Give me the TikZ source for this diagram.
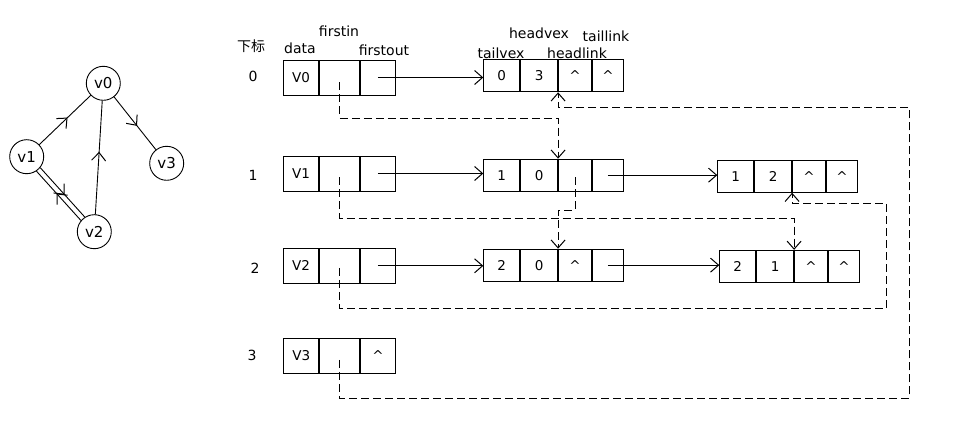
\documentclass[tikz,border=0pt]{standalone}
\usepackage{fontspec}
\setmainfont{DejaVu Sans}
\newfontfamily\cjk{Noto Sans CJK SC}
\usetikzlibrary{arrows.meta,decorations.markings,calc}
\tikzset{
  cellbox/.style={draw, line width=0.9pt, inner sep=0pt, anchor=west, font=\fontsize{13.5}{13.5}\selectfont},
  vcellbox/.style={cellbox, minimum height=35pt},
  ecellbox/.style={cellbox, minimum height=32pt},
  lbl/.style={font=\fontsize{14}{14}\selectfont, inner sep=0pt},
  opentip/.tip={Straight Barb[length=8pt,width=14pt,line width=1pt]},
  tip/.style={-opentip},
  solidarr/.style={line width=0.9pt, tip},
  dasharr/.style={line width=0.9pt, dash pattern=on 8pt off 4pt, tip},
  gnode/.style={draw, circle, line width=0.9pt, minimum size=34pt, inner sep=0pt, font=\fontsize{15}{15}\selectfont},
  midarrow/.style={line width=0.9pt, decoration={markings, mark=at position 0.55 with {\arrow{opentip}}}, postaction=decorate},
}
\newcommand{\vrowcells}[6]{%
  \node[vcellbox, minimum width=35pt] (#1d) at (#2,#3) {#4};
  \node[vcellbox, minimum width=40pt] (#1i) at (#1d.east) {#5};
  \node[vcellbox, minimum width=35pt] (#1o) at (#1i.east) {#6};}
\newcommand{\erowcells}[7]{%
  \node[ecellbox, minimum width=36pt] (#1a) at (#2,#3) {#4};
  \node[ecellbox, minimum width=37pt] (#1b) at (#1a.east) {#5};
  \node[ecellbox, minimum width=33pt] (#1c) at (#1b.east) {#6};
  \node[ecellbox, minimum width=31pt] (#1e) at (#1c.east) {#7};}
\begin{document}
\begin{tikzpicture}[x=1pt,y=-1pt]
\useasboundingbox (0,0) rectangle (954,435);
% left graph
\node[gnode] (g0) at (103.3,83.3) {v0};
\node[gnode] (g1) at (26.7,156.7) {v1};
\node[gnode] (g3) at (166.7,163.3) {v3};
\node[gnode] (g2) at (94.3,231.7) {v2};
\draw[midarrow] (g1) -- (g0);
\draw[midarrow] (g0) -- (g3);
\draw[midarrow] (g2) -- (g0);
\draw[midarrow] (g1.-39.5) -- (g2.123.5);
\draw[midarrow] (g2.140.5) -- (g1.-56.5);
% headers
\node[lbl] (hsub) at (251,46) {\cjk 下标};
\node[lbl] (hdata) at (300,48) {data};
\node[lbl] (hfin) at (339,31) {firstin};
\node[lbl] (hfout) at (384,50) {firstout};
\node[lbl] (htv) at (501,53) {tailvex};
\node[lbl] (hhv) at (539,33) {headvex};
\node[lbl] (hhl) at (577,53) {headlink};
\node[lbl] (htl) at (606,36) {taillink};
% row indices
\node[lbl] (r0) at (253,76) {0};
\node[lbl] (r1) at (253,175) {1};
\node[lbl] (r2) at (255,268) {2};
\node[lbl] (r3) at (252,355) {3};
% vertex table
\vrowcells{va}{283}{77.5}{V0}{}{}
\vrowcells{vb}{283}{173.5}{V1}{}{}
\vrowcells{vc}{283}{265.8}{V2}{}{}
\vrowcells{vd}{283.3}{355.8}{V3}{}{\textasciicircum}
% arc nodes
\erowcells{ea}{483.3}{75.85}{0}{3}{\textasciicircum}{\textasciicircum}
\erowcells{eb}{483.3}{175.15}{1}{0}{}{}
\erowcells{ec}{483.3}{265.15}{2}{0}{\textasciicircum}{}
\erowcells{ed}{717.3}{176.3}{1}{2}{\textasciicircum}{\textasciicircum}
\erowcells{ee}{719.3}{266.3}{2}{1}{\textasciicircum}{\textasciicircum}
% solid links
\draw[solidarr] (vao.center) -- (vao.center -| eaa.west);
\draw[solidarr] (vbo.center) -- (vbo.center -| eba.west);
\draw[solidarr] (vco.center) -- (vco.center -| eca.west);
\draw[solidarr] (ebe.center) -- (ebe.center -| eda.west);
\draw[solidarr] (ece.center) -- (ece.center -| eea.west);
% dashed links
\coordinate (ya) at (0,118);
\coordinate (yb) at (0,210);
\coordinate (yc) at (0,218.3);
\coordinate (rc1) at (886.7,308);
\coordinate (rc2) at (886.7,203.3);
\coordinate (rd1) at (909.3,398.3);
\coordinate (rd2) at (909.3,107.7);
\draw[dasharr] ([yshift=-5pt]vai.center) |- (ebc.north west |- ya) -- (ebc.north west);
\draw[dasharr] ([yshift=-2pt]ebc.center) |- (ecc.north west |- yb) -- (ecc.north west);
\draw[dasharr] ([yshift=-4pt]vbi.center) |- (eec.north west |- yc) -- (eec.north west);
\draw[dasharr] ([yshift=-2pt]vci.center) |- (rc1) -- (rc2) -| (edc.south west);
\draw[dasharr] ([yshift=-4pt]vdi.center) |- (rd1) -- (rd2) -| (eac.south west);
\end{tikzpicture}
\end{document}
